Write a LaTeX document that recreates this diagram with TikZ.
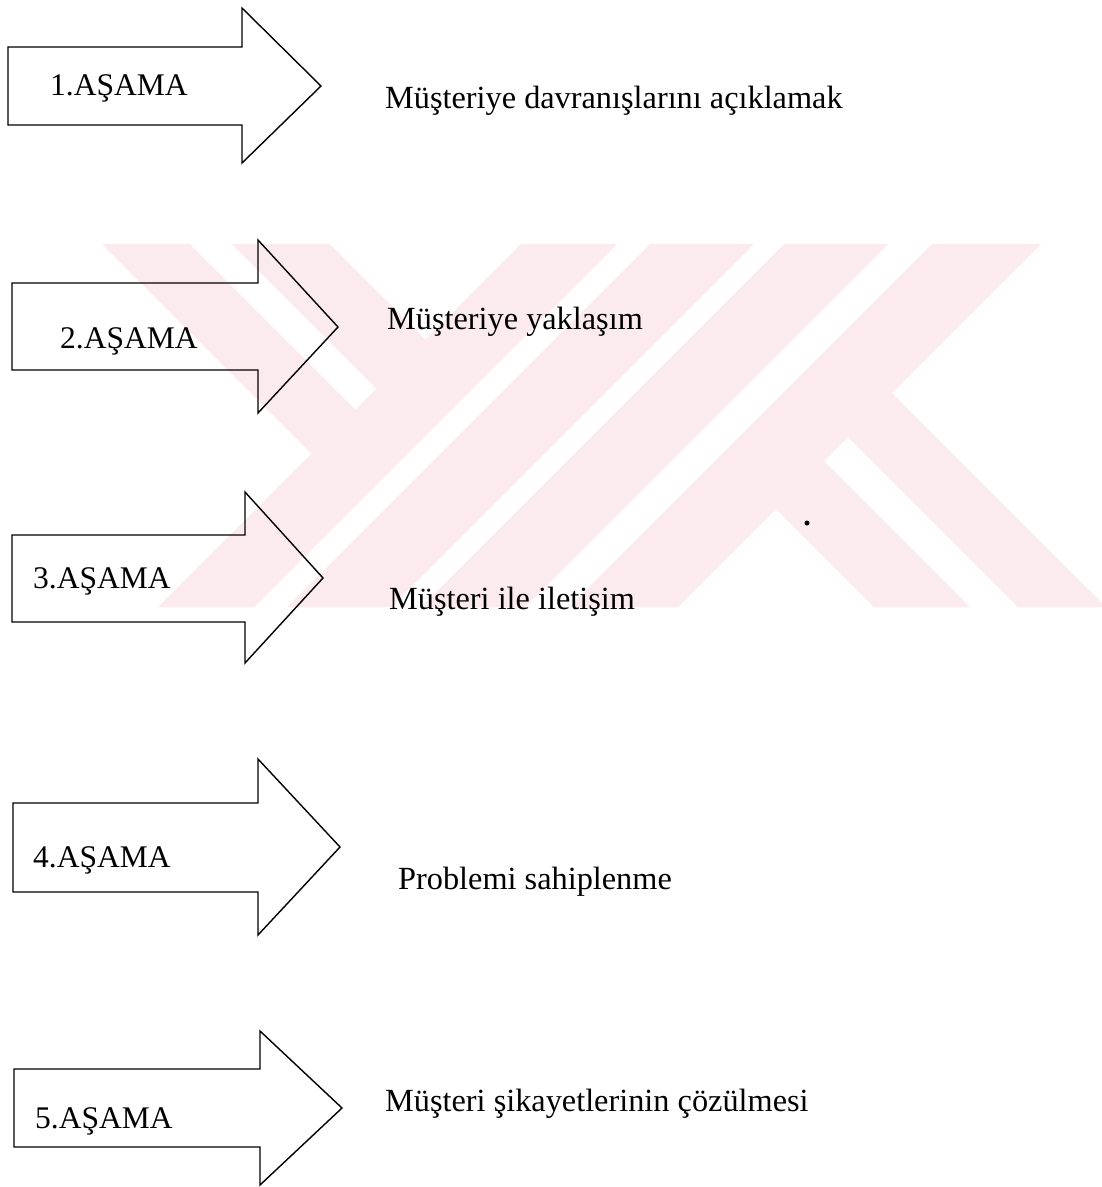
\documentclass[tikz,border=0pt]{standalone}
\usepackage{fontspec}
\setmainfont{Liberation Serif}
\definecolor{wm}{RGB}{252,235,238}
\begin{document}
\begin{tikzpicture}[x=1pt,y=-1pt,
  blockarrow/.style={draw=black,line width=1.4pt,line join=miter},
  stage/.style={anchor=base west,inner sep=0pt,font=\fontsize{31.5}{36}\selectfont},
  desc/.style={anchor=base west,inner sep=0pt,font=\fontsize{32.3}{38}\selectfont}]
\useasboundingbox (0,0) rectangle (1102,1187);
% watermark
\begin{scope}
\clip (0,244) rectangle (1102,607);
\fill[wm] (765-244,244) -- (861-244,244) -- (861-607,607) -- (765-607,607) -- cycle;
\fill[wm] (894-244,244) -- (998-244,244) -- (998-607,607) -- (894-607,607) -- cycle;
\fill[wm] (1028-244,244) -- (1132-244,244) -- (1132-607,607) -- (1028-607,607) -- cycle;
\fill[wm] (1176-244,244) -- (1285-244,244) -- (1285-607,607) -- (1176-607,607) -- cycle;
\fill[wm] (102,244) -- (190,244) -- (373,427) -- (329,471) -- cycle;
\fill[wm] (232,244) -- (330,244) -- (443,357) -- (394,406) -- cycle;
\fill[wm] (758.5,491.5) -- (806.5,443.5) -- (970,607) -- (874,607) -- cycle;
\fill[wm] (830.5,419.5) -- (874.5,375.5) -- (1106,607) -- (1018,607) -- cycle;
\end{scope}
% arrows
\draw[blockarrow] (8,47) -- (242,47) -- (242,8) -- (321,86) -- (242,163) -- (242,125) -- (8,125) -- cycle;
\draw[blockarrow] (12,283) -- (258,283) -- (258,240) -- (338,327) -- (258,413) -- (258,370) -- (12,370) -- cycle;
\draw[blockarrow] (12,535) -- (245,535) -- (245,492) -- (323,578) -- (245,663) -- (245,622) -- (12,622) -- cycle;
\draw[blockarrow] (13,803) -- (258,803) -- (258,759) -- (340,847) -- (258,935) -- (258,892) -- (13,892) -- cycle;
\draw[blockarrow] (14,1069) -- (260,1069) -- (260,1031) -- (342,1108) -- (260,1185) -- (260,1147) -- (14,1147) -- cycle;
% stage labels
\node[stage] (s1) at (50,95) {1.AŞAMA};
\node[stage] (s2) at (60,348) {2.AŞAMA};
\node[stage] (s3) at (33,588) {3.AŞAMA};
\node[stage] (s4) at (33,867) {4.AŞAMA};
\node[stage] (s5) at (35,1128) {5.AŞAMA};
% descriptions
\node[desc] (d1) at (385,108) {Müşteriye davranışlarını açıklamak};
\node[desc] (d2) at (387,329) {Müşteriye yaklaşım};
\node[desc] (d3) at (389,609) {Müşteri ile iletişim};
\node[desc] (d4) at (398,889) {Problemi sahiplenme};
\node[desc] (d5) at (385,1111) {Müşteri şikayetlerinin çözülmesi};
\fill (807,523) circle (2.5);
\end{tikzpicture}
\end{document}
